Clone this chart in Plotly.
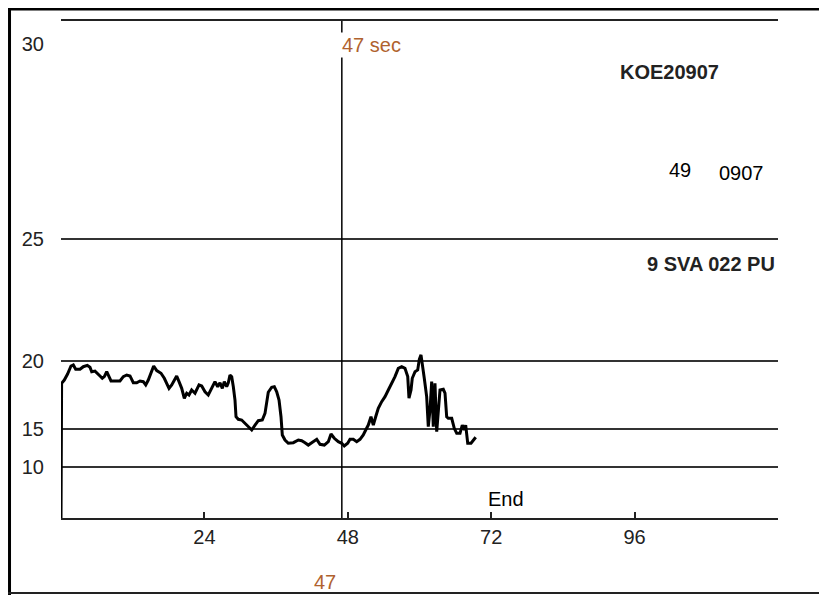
import numpy as np
import plotly.graph_objects as go

# ---- data ----
time_s = [0, 0.1, 0.55, 1.1, 1.67, 2.06, 2.46, 3.18, 3.73, 4.4, 4.85, 5.14, 5.69, 6.14, 6.53, 6.91,
          7.25, 7.65, 8.03, 8.37, 9.04, 9.87, 10.43, 11.0, 11.55, 12.1, 12.67, 13.22, 13.77, 14.18,
          14.61, 15.18, 15.51, 16.02, 16.74, 17.29, 17.69, 18.08, 18.53, 18.96, 19.36, 19.75, 20.2,
          20.64, 21.04, 21.42, 21.87, 22.43, 23.1, 23.55, 24.1, 24.65, 25.22, 25.77, 26.23, 26.61,
          27.0, 27.33, 27.73, 28.0, 28.28, 28.57, 28.84, 29.12, 29.29, 29.67, 30.24, 30.79, 31.35,
          31.92, 32.47, 33.02, 33.69, 34.14, 34.69, 35.26, 35.7, 36.1, 36.49, 36.82, 37.04, 37.49,
          38.04, 38.88, 39.72, 40.28, 40.84, 41.39, 41.96, 42.8, 43.35, 44.07, 44.74, 45.19, 45.74,
          46.41, 46.98, 47.41, 47.98, 48.37, 48.92, 49.49, 50.04, 50.59, 51.0, 51.43, 51.88, 52.27,
          52.67, 53.1, 53.67, 54.23, 54.78, 55.35, 55.9, 56.45, 57.02, 57.57, 58.03, 58.24, 58.58,
          58.79, 59.25, 59.7, 59.97, 60.25, 60.47, 60.8, 61.2, 61.47, 61.76, 62.04, 62.31, 62.59,
          62.88, 63.15, 63.43, 63.98, 64.27, 64.55, 64.82, 65.39, 65.82, 66.23, 66.78, 67.16, 67.5,
          67.73, 68.07, 68.62, 69.0, 69.41]
values = [0, 18.36, 18.6, 19.04, 19.63, 19.71, 19.39, 19.39, 19.58, 19.68, 19.54, 19.21, 19.26, 19.1,
          18.9, 18.73, 18.85, 19.21, 18.85, 18.53, 18.53, 18.53, 18.85, 18.97, 18.9, 18.4, 18.4,
          18.53, 18.48, 18.24, 18.6, 19.34, 19.63, 19.29, 19.1, 18.73, 18.36, 17.99, 18.24, 18.6,
          18.9, 18.48, 17.99, 17.26, 17.63, 17.5, 17.87, 17.63, 18.24, 18.16, 17.74, 17.5, 17.99,
          18.48, 18.11, 18.4, 17.99, 18.48, 18.11, 18.4, 18.97, 18.85, 18.11, 17.13, 15.9, 15.71,
          15.66, 15.42, 15.22, 14.87, 15.29, 15.61, 15.66, 16.15, 17.7, 18.07, 18.11, 17.74, 17.13,
          15.9, 14.21, 13.55, 13.12, 13.2, 13.55, 13.46, 13.2, 12.89, 13.2, 13.64, 12.99, 12.89,
          13.33, 14.34, 13.78, 13.33, 13.12, 12.76, 13.12, 13.64, 13.64, 13.33, 13.64, 14.21, 14.87,
          15.29, 15.9, 15.29, 15.9, 16.52, 17.01, 17.38, 17.87, 18.36, 18.85, 19.46, 19.58, 19.46,
          18.85, 17.26, 17.87, 18.73, 19.21, 19.34, 20.07, 20.25, 19.83, 18.73, 17.38, 15.17, 16.4,
          18.48, 15.17, 18.36, 14.64, 16.4, 17.87, 17.92, 17.63, 15.9, 15.79, 15.79, 15.05, 14.43,
          14.43, 15.29, 14.87, 15.29, 13.12, 13.12, 13.55, 13.91]

y_tick_labels = [10, 15, 20, 25, 30]
grid_values = [10, 15, 20, 25]
x_ticks = [24, 48, 72, 96]
marker_time = 47
end_time = 71.2
header_id = "KOE20907"
info_left = "49"
info_right = "0907"
sub_id = "9 SVA 022 PU"

# non-linear vertical scale of the original instrument chart (value -> axis units)
scale_values = [0, 10, 15, 20, 25, 30]
scale_units = [0, 51, 89, 157, 279, 474]


def to_axis(v):
    return np.interp(v, scale_values, scale_units)


BROWN = "#B0622E"
FONT = "Liberation Sans, Arial, sans-serif"

fig = go.Figure()
fig.add_trace(go.Scatter(x=time_s, y=to_axis(values), mode="lines",
                         line=dict(color="black", width=3), hoverinfo="skip"))

shapes = []
for g in grid_values:
    shapes.append(dict(type="line", xref="x", yref="y", x0=0, x1=120,
                       y0=float(to_axis(g)), y1=float(to_axis(g)),
                       line=dict(color="#333", width=2), layer="below"))
# marker vertical line
shapes.append(dict(type="line", xref="x", yref="paper", x0=marker_time, x1=marker_time,
                   y0=0, y1=1, line=dict(color="black", width=1.5)))
# outer frame
shapes.append(dict(type="line", xref="paper", yref="paper", x0=-0.075, x1=1.1,
                   y0=1.0242, y1=1.0242, line=dict(color="black", width=3)))
shapes.append(dict(type="line", xref="paper", yref="paper", x0=-0.0718, x1=-0.0718,
                   y0=-0.16, y1=1.03, line=dict(color="black", width=3)))
shapes.append(dict(type="line", xref="paper", yref="paper", x0=-0.075, x1=1.1,
                   y0=-0.1509, y1=-0.1509, line=dict(color="#222", width=2)))

annotations = [
    dict(x=marker_time, y=0.9517, xref="x", yref="paper", text=f"{marker_time} sec",
         xanchor="left", yanchor="middle", showarrow=False, xshift=-2,
         font=dict(color=BROWN, size=20, family=FONT), bgcolor="white", borderpad=1),
    dict(x=marker_time, y=-0.1288, xref="x", yref="paper", text=f"{marker_time}",
         xanchor="right", yanchor="middle", showarrow=False, xshift=-4,
         font=dict(color=BROWN, size=20, family=FONT)),
    dict(x=end_time, y=0.0382, xref="x", yref="paper", text="End",
         xanchor="left", yanchor="middle", showarrow=False,
         font=dict(color="black", size=20, family=FONT)),
    dict(x=0.7768, y=0.8974, xref="paper", yref="paper", text=f"<b>{header_id}</b>",
         xanchor="left", yanchor="middle", showarrow=False,
         font=dict(color="#222", size=20, family=FONT)),
    dict(x=0.8452, y=0.7002, xref="paper", yref="paper", text=info_left,
         xanchor="left", yanchor="middle", showarrow=False,
         font=dict(color="black", size=20, family=FONT)),
    dict(x=0.9149, y=0.6942, xref="paper", yref="paper", text=info_right,
         xanchor="left", yanchor="middle", showarrow=False,
         font=dict(color="black", size=20, family=FONT)),
    dict(x=0.8145, y=0.5111, xref="paper", yref="paper", text=f"<b>{sub_id}</b>",
         xanchor="left", yanchor="middle", showarrow=False,
         font=dict(color="#222", size=20, family=FONT)),
]

fig.update_layout(
    width=827, height=595,
    margin=dict(l=53, r=57, t=13, b=85),
    paper_bgcolor="white", plot_bgcolor="white",
    showlegend=False,
    shapes=shapes, annotations=annotations,
    font=dict(family=FONT, size=20, color="black"),
    xaxis=dict(range=[0, 120], tickvals=x_ticks, ticktext=[str(t) for t in x_ticks],
               ticks="inside", ticklen=6, tickwidth=2, tickcolor="#222",
               showline=True, linecolor="#222", linewidth=2, mirror=True,
               showgrid=False, zeroline=False, fixedrange=True,
               tickfont=dict(size=20, color="#222")),
    yaxis=dict(range=[0, 497], tickvals=[float(v) for v in to_axis(y_tick_labels)],
               ticktext=[str(t) for t in y_tick_labels], ticks="", ticklabelstandoff=16,
               showline=False, showgrid=False, zeroline=False, fixedrange=True,
               tickfont=dict(size=20, color="#222")),
)

fig.write_html("out.html")
